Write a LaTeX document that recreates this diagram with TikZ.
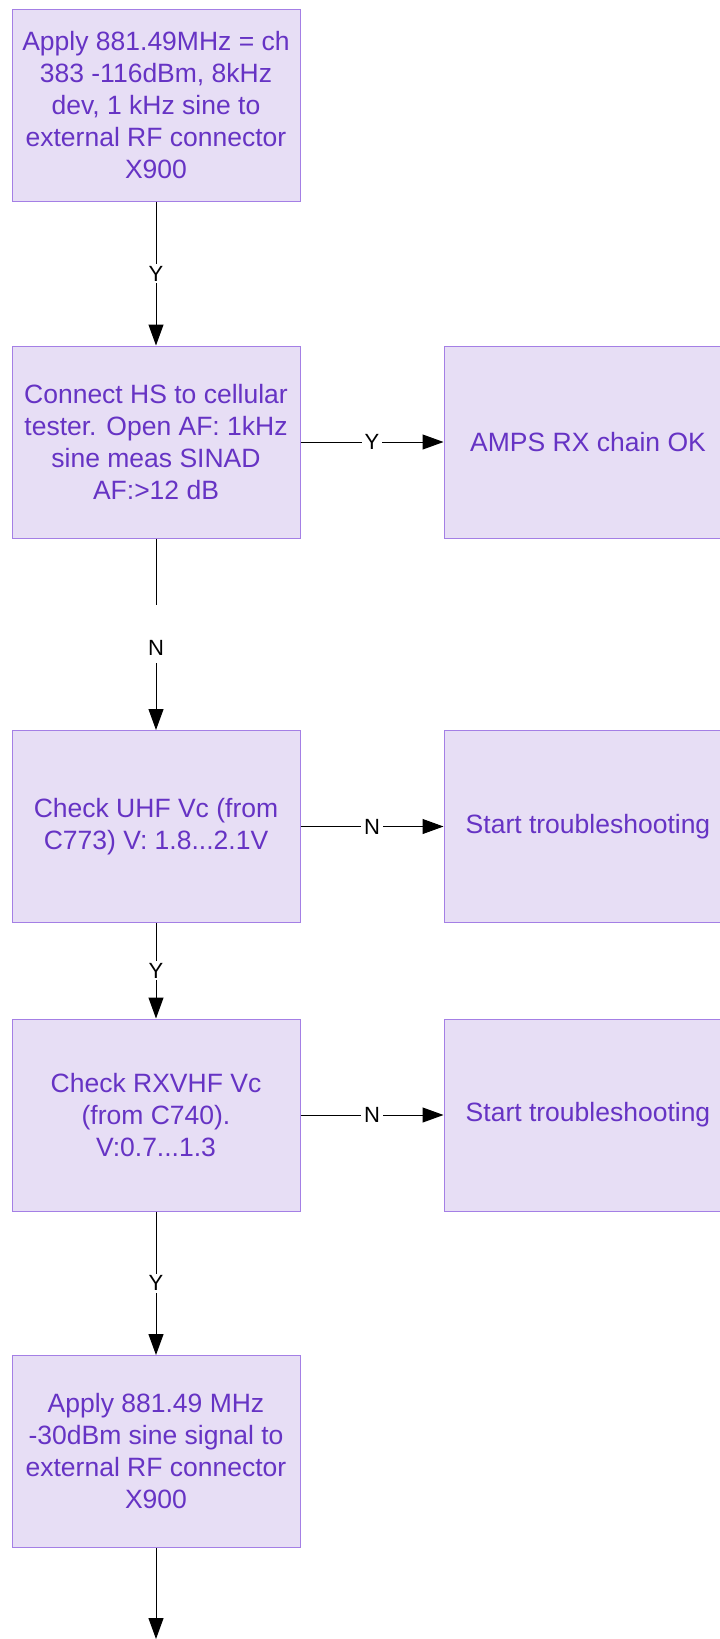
\documentclass[tikz,border=0pt]{standalone}
\usepackage{fontspec}
\setmainfont{Liberation Sans}
\usetikzlibrary{arrows.meta}
\definecolor{boxfill}{HTML}{E7DEF5}
\definecolor{boxline}{HTML}{A47FE5}
\definecolor{boxtext}{HTML}{6633C4}
\tikzset{
  stepbox/.style={draw=boxline,fill=boxfill,line width=1pt,text=boxtext,
    minimum width=288pt,minimum height=192pt,inner sep=0pt,align=center,
    font=\fontsize{26.5pt}{32pt}\selectfont},
  flow/.style={line width=1pt,-{Triangle[length=21pt,width=15pt]}},
  lbl/.style={fill=white,inner xsep=3pt,inner ysep=2pt,
    font=\fontsize{22pt}{26pt}\selectfont}
}
\begin{document}
\begin{tikzpicture}[x=1pt,y=1pt]
\useasboundingbox (0,0) rectangle (720,-1639);
% left column
\node[stepbox] (apply1) at (156,-105) {Apply 881.49MHz = ch\\383 -116dBm, 8kHz\\dev, 1 kHz sine to\\external RF connector\\X900};
\node[stepbox] (sinad) at (156,-442) {Connect HS to cellular\\tester. Open AF: 1kHz\\sine meas SINAD\\AF:>12 dB};
\node[stepbox] (uhf) at (156,-826.5) {Check UHF Vc (from\\C773) V: 1.8...2.1V};
\node[stepbox] (rxvhf) at (156,-1115) {Check RXVHF Vc\\(from C740).\\V:0.7...1.3};
\node[stepbox] (apply2) at (156,-1451.5) {Apply 881.49 MHz\\-30dBm sine signal to\\external RF connector\\X900};
% right column
\node[stepbox] (ok) at (588,-442) {AMPS RX chain OK};
\node[stepbox] (trbl1) at (588,-826.5) {Start troubleshooting};
\node[stepbox] (trbl2) at (588,-1115) {Start troubleshooting};
\coordinate (next) at (156,-1639);
% connectors
\draw[flow] (apply1) -- node[lbl]{Y} (sinad);
\draw[flow] (sinad) -- node[lbl]{Y} (ok);
\draw[flow] (sinad) -- node[lbl,text height=48pt,text depth=6pt]{N} (uhf);
\draw[flow] (uhf) -- node[lbl]{N} (trbl1);
\draw[flow] (uhf) -- node[lbl]{Y} (rxvhf);
\draw[flow] (rxvhf) -- node[lbl]{N} (trbl2);
\draw[flow] (rxvhf) -- node[lbl]{Y} (apply2);
\draw[flow] (apply2) -- (next);
\end{tikzpicture}
\end{document}
